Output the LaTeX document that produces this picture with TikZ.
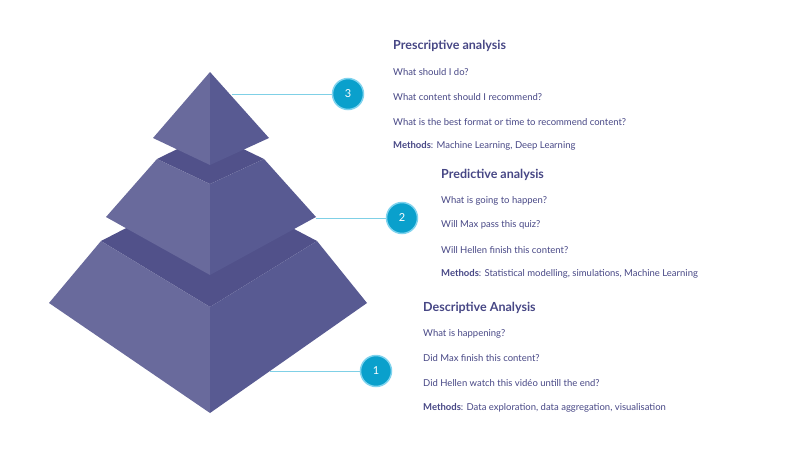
\documentclass[tikz,border=0pt]{standalone}
\usepackage{fontspec}
\setmainfont{Lato}
\begin{document}
\begin{tikzpicture}[x=1pt,y=-1pt,
  lf/.style={fill=lface}, rf/.style={fill=rface}, band/.style={fill=bandc},
  num/.style={circle,fill=numc,draw=numb,line width=1.5pt,minimum size=31pt,inner sep=0pt,text=white,font=\fontsize{11}{13}\selectfont\rmfamily},
  conn/.style={draw=linec,line width=0.7pt},
  ttl/.style={anchor=west,inner sep=0pt,text=txtc,font=\fontsize{12.5}{15}\selectfont\bfseries},
  body/.style={anchor=west,inner sep=0pt,text=txtc,font=\fontsize{9.5}{12}\selectfont}]
\definecolor{lface}{HTML}{696A9C}
\definecolor{rface}{HTML}{585A92}
\definecolor{bandc}{HTML}{51518A}
\definecolor{numc}{HTML}{0AA0CC}
\definecolor{numb}{HTML}{7FD3EE}
\definecolor{linec}{HTML}{7FD0E6}
\definecolor{txtc}{HTML}{474785}
\useasboundingbox (0,0) rectangle (800,452);
% bottom tier
\fill[band] (101,241) -- (210,185) -- (317,241) -- (210,307) -- cycle;
\fill[lf] (101,241) -- (210,307) -- (210,413) -- (49,303) -- cycle;
\fill[rf] (210,307) -- (317,241) -- (367,303) -- (210,413) -- cycle;
% middle tier
\fill[band] (157,159) -- (210,133) -- (264,159) -- (210,184) -- cycle;
\fill[lf] (157,159) -- (210,184) -- (210,275) -- (106,217) -- cycle;
\fill[rf] (210,184) -- (264,159) -- (316,217) -- (210,275) -- cycle;
% top
\fill[lf] (210,72) -- (210,165) -- (153,138) -- cycle;
\fill[rf] (210,72) -- (269,138) -- (210,165) -- cycle;
\coordinate (p3) at (232,94);
\coordinate (p2) at (316,218);
\coordinate (p1) at (270,371);
\node[num] (n3) at (348,94) {3};
\node[num] (n2) at (402,218) {2};
\node[num] (n1) at (376,371) {1};
\draw[conn] (p3) -- (n3);
\draw[conn] (p2) -- (n2);
\draw[conn] (p1) -- (n1);
\node[ttl] (t3) at (393,46) {Prescriptive analysis};
\node[body] (a1) at (393,72) {What should I do?};
\node[body] (a2) at (393,97) {What content should I recommend?};
\node[body] (a3) at (393,122) {What is the best format or time to recommend content?};
\node[body] (a4) at (393,146) {\textbf{Methods}: Machine Learning, Deep Learning};
\node[ttl] (t2) at (441,175) {Predictive analysis};
\node[body] (b1) at (441,201) {What is going to happen?};
\node[body] (b2) at (441,225) {Will Max pass this quiz?};
\node[body] (b3) at (441,250) {Will Hellen finish this content?};
\node[body] (b4) at (441,274) {\textbf{Methods}: Statistical modelling, simulations, Machine Learning};
\node[ttl] (t1) at (423,308) {Descriptive Analysis};
\node[body] (c1) at (423,334) {What is happening?};
\node[body] (c2) at (423,358) {Did Max finish this content?};
\node[body] (c3) at (423,383) {Did Hellen watch this vidéo untill the end?};
\node[body] (c4) at (423,408) {\textbf{Methods}: Data exploration, data aggregation, visualisation};
\end{tikzpicture}
\end{document}
